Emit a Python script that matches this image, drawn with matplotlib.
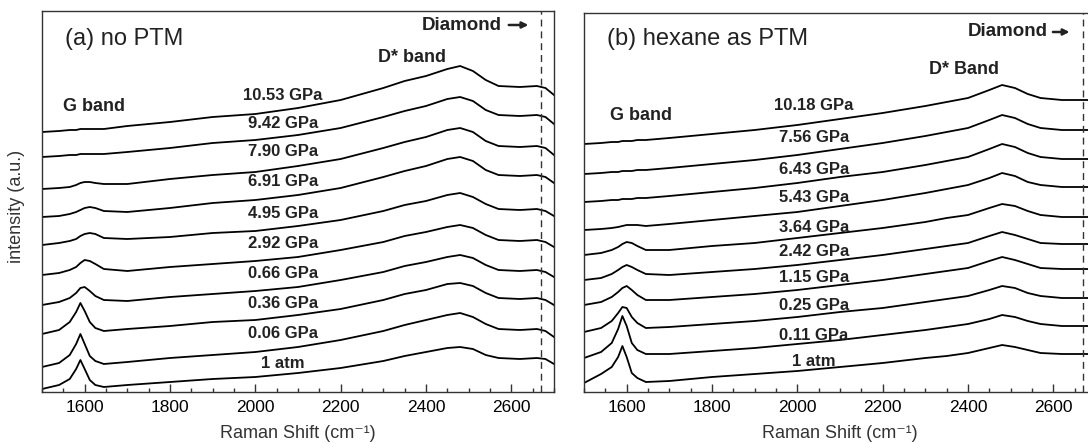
import matplotlib
matplotlib.use("Agg")
import matplotlib.pyplot as plt
from matplotlib.ticker import MultipleLocator

plt.rcParams['font.family'] = ['Liberation Sans', 'DejaVu Sans']

# Raman shift sample points (cm-1), shared by all spectra
shift = [1500, 1540, 1565, 1580, 1590, 1600, 1612, 1625, 1645, 1700, 1800, 1900, 2000, 2100,
         2200, 2300, 2350, 2400, 2450, 2480, 2510, 2540, 2570, 2620, 2660, 2680, 2700]

# (a) no PTM, bottom to top, stacked intensity (a.u.)
pressures_a = ['1 atm', '0.06 GPa', '0.36 GPa', '0.66 GPa', '2.92 GPa',
               '4.95 GPa', '6.91 GPa', '7.90 GPa', '9.42 GPa', '10.53 GPa']
spectra_a = [
    [3, 7, 13, 23, 32, 23, 12, 7, 5, 7, 10, 13, 15, 19, 24, 31, 36, 40, 44, 45, 43, 37, 34, 33, 34, 33, 28],
    [25, 29, 37, 48, 58, 48, 36, 31, 28, 30, 34, 37, 40, 45, 52, 61, 67, 72, 77, 79, 75, 68, 63, 62, 63, 61, 55],
    [58, 62, 70, 80, 89, 81, 70, 64, 61, 63, 66, 70, 72, 77, 83, 92, 98, 102, 108, 109, 106, 99, 94, 93, 94, 92, 87],
    [87, 90, 94, 99, 104, 105, 101, 96, 92, 91, 95, 98, 101, 105, 112, 120, 126, 130, 135, 137, 134, 127, 122, 121, 122, 120, 115],
    [117, 119, 122, 125, 129, 132, 131, 128, 123, 121, 125, 128, 131, 135, 142, 150, 156, 160, 165, 167, 164, 157, 152, 151, 152, 150, 145],
    [147, 149, 151, 153, 156, 158, 159, 158, 154, 153, 155, 159, 161, 166, 172, 181, 187, 191, 197, 199, 195, 188, 183, 182, 183, 181, 176],
    [175, 176, 178, 180, 182, 184, 185, 184, 181, 180, 184, 189, 192, 197, 204, 215, 221, 226, 233, 235, 231, 222, 217, 216, 217, 215, 209],
    [203, 204, 205, 207, 209, 210, 210, 209, 208, 208, 213, 217, 220, 226, 233, 244, 250, 255, 262, 264, 260, 251, 246, 245, 246, 244, 237],
    [235, 236, 237, 237, 238, 238, 238, 238, 238, 240, 244, 249, 252, 257, 264, 275, 281, 286, 293, 295, 291, 282, 277, 276, 277, 275, 268],
    [260, 261, 262, 262, 263, 263, 263, 263, 263, 266, 270, 275, 278, 284, 292, 304, 311, 316, 323, 326, 321, 312, 306, 305, 306, 304, 297],
]

# (b) hexane as PTM
pressures_b = ['1 atm', '0.11 GPa', '0.25 GPa', '1.15 GPa', '2.42 GPa',
               '3.64 GPa', '5.43 GPa', '6.43 GPa', '7.56 GPa', '10.18 GPa']
spectra_b = [
    [9, 18, 25, 35, 46, 35, 19, 14, 10, 11, 15, 18, 21, 25, 29, 34, 36, 39, 44, 47, 45, 42, 39, 38, 38, 38, 36],
    [34, 40, 49, 63, 76, 66, 49, 42, 38, 38, 41, 44, 48, 52, 57, 62, 65, 68, 73, 77, 75, 71, 68, 66, 66, 66, 65],
    [60, 64, 71, 79, 85, 84, 75, 69, 64, 65, 68, 71, 75, 80, 84, 90, 93, 96, 102, 106, 104, 99, 96, 94, 94, 94, 93],
    [87, 90, 95, 100, 104, 106, 102, 97, 92, 92, 95, 98, 102, 107, 112, 118, 121, 124, 131, 135, 132, 128, 124, 123, 123, 123, 121],
    [112, 114, 118, 122, 125, 127, 125, 122, 118, 117, 120, 123, 127, 132, 137, 143, 146, 149, 156, 160, 157, 153, 149, 148, 148, 148, 146],
    [137, 139, 142, 145, 148, 150, 149, 146, 142, 142, 146, 149, 154, 159, 164, 170, 174, 177, 184, 188, 186, 181, 177, 175, 175, 175, 174],
    [162, 163, 164, 165, 166, 167, 167, 167, 166, 168, 172, 176, 180, 186, 192, 199, 203, 207, 214, 219, 216, 210, 207, 205, 205, 205, 203],
    [190, 191, 192, 192, 193, 193, 193, 194, 194, 196, 200, 204, 209, 215, 220, 227, 231, 235, 243, 248, 245, 239, 235, 233, 233, 233, 231],
    [218, 219, 220, 220, 221, 221, 221, 222, 222, 224, 228, 232, 237, 243, 249, 256, 260, 264, 272, 277, 274, 268, 264, 262, 262, 262, 260],
    [248, 249, 250, 250, 251, 251, 251, 252, 252, 254, 258, 262, 267, 273, 279, 286, 290, 294, 302, 307, 304, 298, 294, 292, 292, 292, 290],
]

diamond_line = 2670

# label heights (layout)
label_y_a = [29, 58, 89, 119, 149, 179, 210, 240, 269, 297]
label_y_b = [30, 56, 87, 115, 140, 165, 195, 223, 255, 287]

fig = plt.figure(figsize=(10.88, 4.43), dpi=100)
ax1 = fig.add_axes([42 / 1088, 51 / 443, 512 / 1088, 381 / 443])
ax2 = fig.add_axes([584 / 1088, 51 / 443, 512 / 1088, 379.5 / 443])


def draw_panel(ax, spectra, pressures, label_y, label_x, ytop):
    for spec in spectra:
        ax.plot(shift, spec, color='black', lw=1.3)
    for name, y in zip(pressures, label_y):
        ax.text(label_x, y, name, ha='center', va='center', fontsize=12,
                fontweight='bold', color='#222222')
    ax.axvline(diamond_line, color='#333333', lw=1.0, linestyle=(0, (5, 3.5)))
    ax.set_xlim(1500, 2700)
    ax.set_ylim(0, ytop)
    ax.set_yticks([])
    ax.xaxis.set_major_locator(MultipleLocator(200))
    ax.xaxis.set_minor_locator(MultipleLocator(50))
    ax.tick_params(axis='x', which='both', direction='in', labelsize=12.5, pad=6, color='#333333')
    ax.tick_params(axis='x', which='major', length=6, width=1)
    ax.tick_params(axis='x', which='minor', length=3, width=1)
    ax.set_xticks([1600, 1800, 2000, 2200, 2400, 2600])
    for s in ax.spines.values():
        s.set_color('#333333')
        s.set_linewidth(1.0)
    ax.set_xlabel('Raman Shift (cm⁻¹)', fontsize=13, color='#333333', labelpad=7)


def diamond_mark(ax, text_end, arrow_start, arrow_end, y):
    ax.text(text_end, y, 'Diamond', fontsize=13.5, fontweight='bold', ha='right',
            va='center', color='#222222')
    ax.annotate('', xy=(arrow_end, y), xytext=(arrow_start, y),
                arrowprops=dict(arrowstyle='-|>', color='#222222', lw=1.8,
                                mutation_scale=9, shrinkA=0, shrinkB=0))


draw_panel(ax1, spectra_a, pressures_a, label_y_a, 2065, 381)
draw_panel(ax2, spectra_b, pressures_b, label_y_b, 2039, 379.5)

ax1.text(1554, 353, '(a) no PTM', fontsize=17, ha='left', va='center', color='#222222')
ax1.text(1550, 286, 'G band', fontsize=13, fontweight='bold', ha='left', va='center', color='#222222')
ax1.text(2367, 335, 'D* band', fontsize=13, fontweight='bold', ha='center', va='center', color='#222222')
diamond_mark(ax1, 2577, 2594, 2640, 367)

ax2.text(1555, 353, '(b) hexane as PTM', fontsize=17, ha='left', va='center', color='#222222')
ax2.text(1562, 277, 'G band', fontsize=13, fontweight='bold', ha='left', va='center', color='#222222')
ax2.text(2390, 323, 'D* Band', fontsize=13, fontweight='bold', ha='center', va='center', color='#222222')
diamond_mark(ax2, 2587, 2599, 2638, 360)

fig.text(17 / 1088, 0.535, 'intensity (a.u.)', rotation=90, ha='center', va='center',
         fontsize=13, color='#333333')

fig.savefig('out.png', dpi=100)
